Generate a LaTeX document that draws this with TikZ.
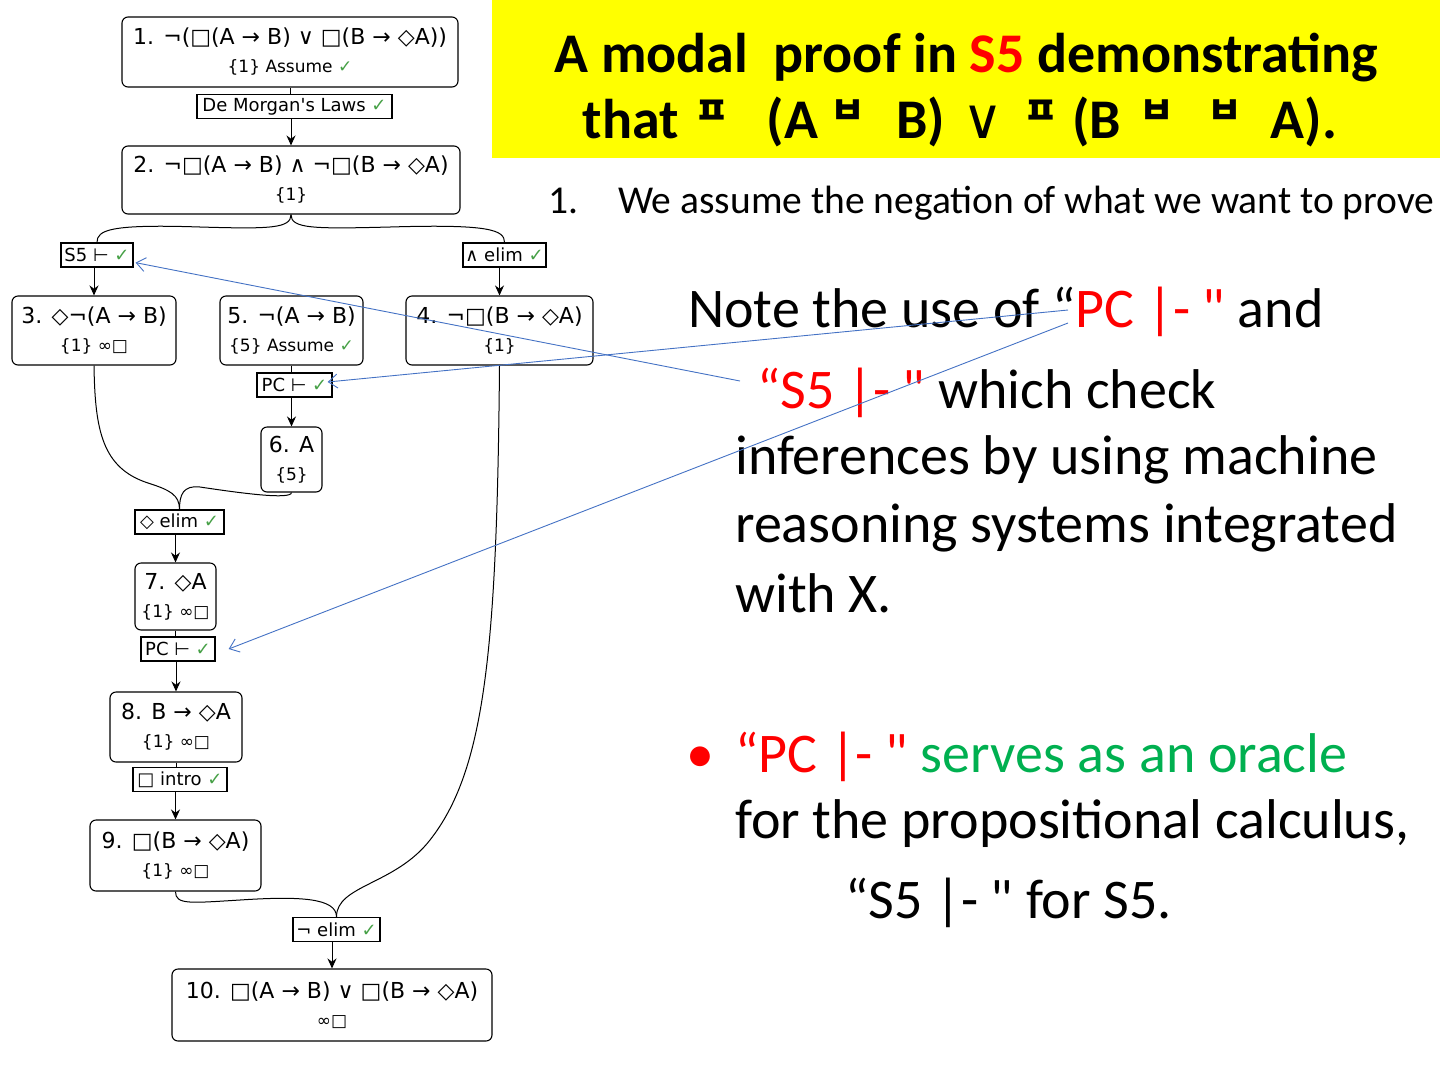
\documentclass[tikz,border=0pt]{standalone}
\usepackage{fontspec}
\setmainfont{Carlito}[Ligatures=TeXOff]
\newfontfamily\prooffont{DejaVu Sans}[Ligatures=TeXOff]
\newfontfamily\jamofont{Noto Sans CJK KR}
\usetikzlibrary{arrows.meta}
\definecolor{titleyellow}{RGB}{255,255,0}
\definecolor{cueblue}{RGB}{68,114,196}
\definecolor{oraclegreen}{RGB}{0,176,80}
\definecolor{tickgreen}{RGB}{70,160,70}
\newcommand{\ok}{\textcolor{tickgreen}{✓}}
\newcommand{\dep}[1]{{\fontsize{17}{20}\selectfont #1}}
\newcommand{\jamo}[1]{\raisebox{14pt}{\jamofont\bfseries\fontsize{38}{38}\selectfont #1}}

\begin{document}
\begin{tikzpicture}[
  x=1pt, y=-1pt,
  stepnode/.style={draw, rounded corners=6pt, line width=1.1pt, align=center, inner sep=0pt,
    font=\prooffont\fontsize{22}{28}\selectfont},
  rulebox/.style={draw, line width=1.3pt, inner sep=1pt, minimum height=24,
    font=\prooffont\fontsize{18}{20}\selectfont},
  flow/.style={-{Stealth[length=10pt,width=9pt]}, line width=1pt},
  link/.style={line width=1pt},
  cue/.style={-{Straight Barb[length=9pt,width=14pt]}, cueblue, line width=0.9pt},
  slidetext/.style={anchor=base west, inner sep=0pt, font=\fontsize{56}{67}\selectfont},
  titletext/.style={anchor=base, inner sep=0pt, font=\bfseries\fontsize{56}{67}\selectfont}
]
\useasboundingbox (0,0) rectangle (1440,1080);
\fill[titleyellow] (492,0) rectangle (1440,158);
\node[titletext] (titleA) at (966,72) {A modal\ \ proof in \textcolor{red}{S5} demonstrating};
\node[titletext] (titleB) at (960,138) {that\hspace{16pt}\jamo{ㅍ}\hspace{37pt}(A\hspace{12pt}\jamo{ㅂ}\hspace{31pt}B)\hspace{17pt}{\prooffont\mdseries ∨}\hspace{20pt}\jamo{ㅍ}\hspace{14pt}(B\hspace{19pt}\jamo{ㅂ}\hspace{33pt}\jamo{ㅂ}\hspace{28pt}A).};

\node[stepnode, minimum width=336, minimum height=70] (n1) at (290,52) {1. ¬(□(A → B) ∨ □(B → ◇A))\\\dep{\{1\} Assume \ok}};
\node[rulebox, minimum width=195] (dm) at (294.5,106.5) {De Morgan's Laws \ok};
\node[stepnode, minimum width=338, minimum height=68] (n2) at (291,180) {2. ¬□(A → B) ∧ ¬□(B → ◇A)\\\dep{\{1\}}};
\node[rulebox, minimum width=72] (s5r) at (97,255) {S5 ⊢ \ok};
\node[rulebox, minimum width=83] (andr) at (504.5,255) {∧ elim \ok};
\node[stepnode, minimum width=164, minimum height=69] (n3) at (94,330.5) {3. ◇¬(A → B)\\\dep{\{1\} ∞□}};
\node[stepnode, minimum width=143, minimum height=69] (n5) at (291.5,330.5) {5. ¬(A → B)\\\dep{\{5\} Assume \ok}};
\node[stepnode, minimum width=187, minimum height=69] (n4) at (499.5,330.5) {4. ¬□(B → ◇A)\\\dep{\{1\}}};
\node[rulebox, minimum width=75] (pca) at (294.5,385) {PC ⊢ \ok};
\node[stepnode, minimum width=61, minimum height=65] (n6) at (291.5,459.5) {6. A\\\dep{\{5\}}};
\node[rulebox, minimum width=89] (dia) at (179.5,522) {◇ elim \ok};
\node[stepnode, minimum width=81, minimum height=67] (n7) at (175.5,596.5) {7. ◇A\\\dep{\{1\} ∞□}};
\node[rulebox, minimum width=74] (pcb) at (178,649) {PC ⊢ \ok};
\node[stepnode, minimum width=132, minimum height=70] (n8) at (176,727) {8. B → ◇A\\\dep{\{1\} ∞□}};
\node[rulebox, minimum width=94] (boxi) at (180,779.5) {□\ intro \ok};
\node[stepnode, minimum width=171, minimum height=71] (n9) at (175.5,855.5) {9. □(B → ◇A)\\\dep{\{1\} ∞□}};
\node[rulebox, minimum width=87] (nege) at (336.5,929.5) {¬ elim \ok};
\node[stepnode, minimum width=320, minimum height=72] (n10) at (332,1005) {10. □(A → B) ∨ □(B → ◇A)\\\dep{∞□}};

\draw[link] (n1.south) -- (n1.south |- dm.north);
\draw[flow] (n2.north |- dm.south) -- (n2.north);
\draw[link] (n2.south) .. controls +(0,14) and (270,229) .. (200,227) .. controls (110,224) and (97,230) .. (s5r.north);
\draw[link] (n2.south) .. controls +(0,14) and (312,229) .. (390,227) .. controls (490,224) and (504.5,230) .. (andr.north);
\draw[flow] (n3.north |- s5r.south) -- (n3.north);
\draw[flow] (n4.north |- andr.south) -- (n4.north);
\draw[link] (n5.south) -- (n5.south |- pca.north);
\draw[flow] (n6.north |- pca.south) -- (n6.north);
\draw[link] (n3.south) .. controls (95,430) and (102,468) .. (148,483) .. controls (170,490) and (179.5,495) .. (dia.north);
\draw[link] (n6.south) .. controls (291,500) and (240,493) .. (200,487) .. controls (183,485) and (179.5,495) .. (dia.north);
\draw[flow] (n7.north |- dia.south) -- (n7.north);
\draw[link] (n7.south) -- (n7.south |- pcb.north);
\draw[flow] (n8.north |- pcb.south) -- (n8.north);
\draw[link] (n8.south) -- (n8.south |- boxi.north);
\draw[flow] (n9.north |- boxi.south) -- (n9.north);
\draw[link] (n9.south) .. controls (175.5,905) and (190,903) .. (240,900) .. controls (300,896) and (336.5,898) .. (nege.north);
\draw[link] (n4.south) .. controls (497,650) and (485,770) .. (430,840) .. controls (395,885) and (336.5,885) .. (nege.north);
\draw[flow] (n10.north |- nege.south) -- (n10.north);

\node[anchor=base west, inner sep=0pt, font=\fontsize{39.5}{48}\selectfont] (item) at (548,213) {\makebox[70pt][l]{1.}We assume the negation of what we want to prove};
\node[slidetext] (noteA) at (688,327) {Note the use of “\textcolor{red}{PC |- "} and};
\node[slidetext] (noteB) at (757,408) {\textcolor{red}{“S5 |- "} which check};
\node[slidetext] (noteC) at (735,474) {inferences by using machine};
\node[slidetext] (noteD) at (735,542) {reasoning systems integrated};
\node[slidetext] (noteE) at (735,612) {with X.};
\node[slidetext] (oracleA) at (686,772) {\makebox[49pt][l]{\textcolor{red}{•}}\textcolor{red}{“PC |- "} \textcolor{oraclegreen}{serves as an oracle}};
\node[slidetext] (oracleB) at (735,838) {for the propositional calculus,};
\node[slidetext] (oracleC) at (845,918) {“S5 |- " for S5.};

\coordinate (s5cue) at (740,381);
\coordinate (pccue) at (1068,310);
\coordinate (pccueb) at (1068,323);
\draw[cue] (s5cue) -- ([shift={(2,-5)}]s5r.south east);
\draw[cue] (pccue) -- ([shift={(-5,-3)}]pca.east);
\draw[cue] (pccueb) -- ([xshift=13pt]pcb.east);
\end{tikzpicture}
\end{document}
